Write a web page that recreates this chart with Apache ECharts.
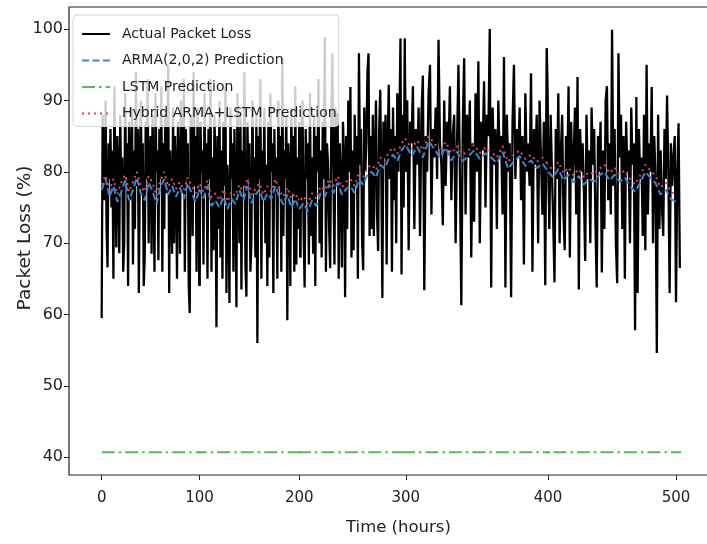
<!DOCTYPE html>
<html>
<head>
<meta charset="utf-8">
<script src="https://cdn.jsdelivr.net/npm/echarts@6/dist/echarts.min.js"></script>
<style>
html,body{margin:0;padding:0;background:#fff;}
#chart{width:707px;height:544px;}
</style>
</head>
<body>
<div id="chart"></div>
<script>
// ---------------- DATA ----------------
// Actual packet loss, one value per hour (hour = index)
const actualValues = [
59.5,88,80,76,90,72,66.6,84,79,86,
75,83,65,92,78,69.4,85,80,68.6,88,
77,82,66,70,91,79,84,64,87,76,
81,89,67,83,72,94,78,86,63,80,
90,77,84,64,68,87,79,93,70,82,
85,68.5,88,78,66,91,80,83,67.6,86,
79,92,66,84,72,88,77,81,95,63,
83,78,68.5,89,70,85,80,65,87,79,
68.5,90,82,77,93,66,86,79,84,64,
60.2,88,81,71,94,78,85,66,89,75,
64,87,80,83,67,91,77,84,65,86,
79,93,66,82,69,88,80,58.2,85,72,
90,68,83,65,87,78,92,63,81,76,
61.6,89,79,84,66,86,77,61,91,80,
70,88,63.5,83,78,94,67,62.5,87,79,
84,66,70,90,77,82,68,88,56,85,
79,93,65,83,76,89,70,81,64,87,
68,91,80,84,63,86,77,82,65,90,
78,85,66,96,71,83,79,88,59.2,84,
80,64,89,77,85,66,92,67,82,72,
87,68,83,90,72,63.8,86,79,84,67,
91,71,82,68.5,88,64,85,80,93,70,
83,68,87,79,98.9,66,84,81,72,66.5,
86,96.6,80,67,89,78,88.2,65,84,79,
66.6,87,82,62.4,85,72,90,80,91.9,68,
83,69,88,78,85,65,96.6,81,86,70,
66.2,89,80,84,94,96.6,71,85,72,88,
71,83,90,74,68.9,86,91.5,80,62.3,87,
82,88,67,84,92.2,79,86,66,89,76,
85,70,91,80,87,98.7,65.6,88,75,98.7,
80,90,69,87,84,92,72,86,81,89,
71,88,93.5,63.4,85,80,91,95,74,86,
82,89,79,98.5,84,81,72.5,90,78,87,
83,92,76,85,88,70,84,95,80,61.3,
86,95.9,74,88,82,90,68,84,73,91,
80,95.5,70,87,83,92.7,75,88,85,100,
63.8,89,81,86,72,90,82,85,74,96.1,
63.8,88,80,84,62.4,87,95,79,86,82,
89,76,85,67,91,80,84,78,93.8,66,
86,81,88,70,90,82,74,87,64.1,97.3,
84,72,88,80,73,64.5,86,79,91,70,
83,88,74,69,85,80,92,68,87,79,
82,89,74,93.3,63.5,86,80,84,77,67.5,
88,79,83,70,89,81,86,73,63.8,85,
80,87,65.9,83,72,90,92,76,84,74,
99.9,78,86,70,64.4,96.6,82,88,72,85,
65,87,80,83,70,89,81,84,57.8,90.5,
63,86,79,82,71,88,69,95,74,84,
80,91.9,70,85,79,54.6,88,72,83,75,
71,86,79,90.7,80,63,84,78,82,85,
61.7,80,86.8,66.5
];
// ARMA(2,0,2) and Hybrid predictions, one value every 4 hours
const predStep = 4;
const armaValues = [
77.5,79,76.5,78,75.8,77.2,78.8,76,77.5,79.2,
77,76,78.5,77.3,75.5,77.8,79,76.8,78,76.5,
77.8,76.2,78.4,77,75.8,77.5,76.3,78,75.2,76,
75,76.5,74.8,76.2,75.5,77.4,76,78,75.6,76.8,
77.5,75.8,77,76.2,78,76.5,75.4,76.8,75,76.2,
74.8,75.6,74.5,76,75.2,77,76.5,78.2,77,78.5,
76.8,77.6,78,77,79,78.2,79.6,80,79.2,81,
80.5,81.8,82.4,81.5,83,83.8,82.2,83.5,82,84.3,
83.2,82,83.4,81.6,82.8,81.5,82.2,83,81.8,82.6,
82,81.2,82.8,80.4,81.5,82.2,80.8,81.6,80.5,81.2,
80,79.2,80.4,78.8,79.6,78.5,79.4,78.2,79,78.6,
79.5,80,78.8,79.6,78.6,79.2,78,77.2,78.5,80,
79.2,78.4,76.8,77.5,76.2,75.8
];
const hybridValues = [
78.2,79.5,77.4,79,76.8,78.5,79.6,77.2,78.6,80,
78,77.2,79.4,78.5,76.6,78.8,80,77.9,79,77.6,
78.6,77.4,79.2,78,77,78.4,77.2,78.8,76.4,77,
76,77.5,75.8,77.2,76.6,78.2,77,79,76.8,77.6,
78.4,76.8,78,77.2,79,77.4,76.5,77.8,76.2,77,
75.8,76.6,75.5,77,76.2,78,77.4,79,78,79.4,
77.8,78.6,79,78,80,79.2,80.6,81,80.2,82,
81.5,82.8,83.4,82.5,84,84.6,83.2,84.4,83,85,
84,82.8,84.2,82.6,83.6,82.4,83,83.8,82.6,83.4,
82.8,82,83.6,81.4,82.4,83,81.8,82.4,81.4,82,
81,80.2,81.4,79.8,80.6,79.5,80.4,79.2,80,79.6,
80.4,81,79.8,80.6,79.6,80.2,79,78.2,79.5,81,
80.2,79.4,77.8,78.5,77.2,76.8
];
// LSTM prediction (flat)
const lstmHours = [0, 504];
const lstmValues = [40.7, 40.7];

const xTicks = [0, 100, 200, 300, 400, 500];
const yTicks = [40, 50, 60, 70, 80, 90, 100];
const seriesNames = ['Actual Packet Loss', 'ARMA(2,0,2) Prediction', 'LSTM Prediction', 'Hybrid ARMA+LSTM Prediction'];

// ---------------- LAYOUT ----------------
const TOP = 7, HEIGHT = 468, YMIN = 37.5, YMAX = 103.1;
// x-axis of the reference is drawn piecewise (non-uniform spacing between ticks)
const segs = [
  {lo: -33.4, hi: 100, left: 69, width: 130.5},
  {lo: 100, hi: 200, left: 199.5, width: 99.8},
  {lo: 200, hi: 300, left: 299.3, width: 106.5},
  {lo: 300, hi: 400, left: 405.8, width: 142.3},
  {lo: 400, hi: 532.9, left: 548.1, width: 170}
];

const actualHours = actualValues.map((v, i) => i);
const predHours = armaValues.map((v, i) => i * predStep);

function splitSeg(xs, ys, lo, hi) {
  const out = [];
  let prev = -1, next = -1;
  for (let i = 0; i < xs.length; i++) {
    if (xs[i] < lo) prev = i;
    else if (xs[i] <= hi) out.push([xs[i], ys[i]]);
    else if (next < 0) next = i;
  }
  if (prev >= 0) out.unshift([xs[prev], ys[prev]]);
  if (next >= 0) out.push([xs[next], ys[next]]);
  return out;
}

const FONT = 'DejaVu Sans';
const TXT = '#222';

const grid = [{left: 69, top: TOP, width: 660, height: HEIGHT, show: true, borderColor: '#222', borderWidth: 1.2, backgroundColor: 'transparent', outerBoundsMode: 'none', containLabel: false}];
const xAxis = [{gridIndex: 0, type: 'value', min: 0, max: 1, show: false}];
const yAxis = [{
  gridIndex: 0, type: 'value', min: YMIN, max: YMAX,
  axisLine: {show: false}, splitLine: {show: false},
  axisTick: {show: true, length: 5, customValues: yTicks, lineStyle: {color: TXT, width: 1}},
  axisLabel: {show: true, customValues: yTicks, fontSize: 16, color: TXT, fontFamily: FONT, margin: 6}
}];
const series = [];

segs.forEach((s, k) => {
  const gi = k + 1;
  grid.push({left: s.left, top: TOP, width: s.width, height: HEIGHT, show: false, outerBoundsMode: 'none', containLabel: false});
  const ticks = xTicks.filter(t => t >= s.lo && (t < s.hi || k === segs.length - 1) && t <= s.hi);
  xAxis.push({
    gridIndex: gi, type: 'value', min: s.lo, max: s.hi,
    axisLine: {show: false}, splitLine: {show: false},
    axisTick: {show: true, length: 5, customValues: ticks, lineStyle: {color: TXT, width: 1}},
    axisLabel: {show: true, customValues: ticks, fontSize: 15, color: TXT, fontFamily: FONT, margin: 16, showMinLabel: true, showMaxLabel: true}
  });
  yAxis.push({gridIndex: gi, type: 'value', min: YMIN, max: YMAX, show: false, splitLine: {show: false}});

  series.push({
    name: seriesNames[0], type: 'line', xAxisIndex: gi, yAxisIndex: gi,
    data: splitSeg(actualHours, actualValues, s.lo, s.hi),
    symbol: 'none', clip: true, color: '#000',
    lineStyle: {color: '#000', width: 2.3}
  });
  series.push({
    name: seriesNames[1], type: 'line', xAxisIndex: gi, yAxisIndex: gi,
    data: splitSeg(predHours, armaValues, s.lo, s.hi),
    symbol: 'none', clip: true, color: '#3a86d1',
    lineStyle: {color: '#3a86d1', width: 2, type: [7, 3.5]}
  });
  series.push({
    name: seriesNames[2], type: 'line', xAxisIndex: gi, yAxisIndex: gi,
    data: splitSeg(lstmHours, lstmValues, s.lo, s.hi),
    symbol: 'none', clip: true, color: '#5cb85c',
    lineStyle: {color: '#5cb85c', width: 2, type: [13, 4, 2.5, 4]}
  });
  series.push({
    name: seriesNames[3], type: 'line', xAxisIndex: gi, yAxisIndex: gi,
    data: splitSeg(predHours, hybridValues, s.lo, s.hi),
    symbol: 'none', clip: true, color: '#e0475f',
    lineStyle: {color: '#e0475f', width: 2, type: [2, 4]}
  });
});

const chart = echarts.init(document.getElementById('chart'), null, {renderer: 'canvas'});
chart.setOption({
  animation: false,
  backgroundColor: '#fff',
  grid, xAxis, yAxis, series,
  legend: {
    data: seriesNames,
    orient: 'vertical', left: 73, top: 15,
    itemWidth: 28, itemHeight: 14, itemGap: 12.5,
    padding: [12, 2, 6, 8],
    backgroundColor: 'rgba(255,255,255,0.8)',
    borderColor: '#d4d4d4', borderWidth: 1, borderRadius: 4,
    itemStyle: {opacity: 0},
    textStyle: {fontSize: 14, color: TXT, fontFamily: FONT, padding: [0, 0, 0, 7]},
    selectedMode: false
  },
  graphic: [{
    type: 'text', left: 346, top: 519,
    style: {text: 'Time (hours)', fontSize: 16.5, fill: TXT, fontFamily: FONT}
  }, {
    type: 'text', x: 25, y: 238, rotation: Math.PI / 2,
    style: {text: 'Packet Loss (%)', fontSize: 18.5, fill: TXT, fontFamily: FONT, align: 'center', verticalAlign: 'middle'}
  }]
});
</script>
</body>
</html>
